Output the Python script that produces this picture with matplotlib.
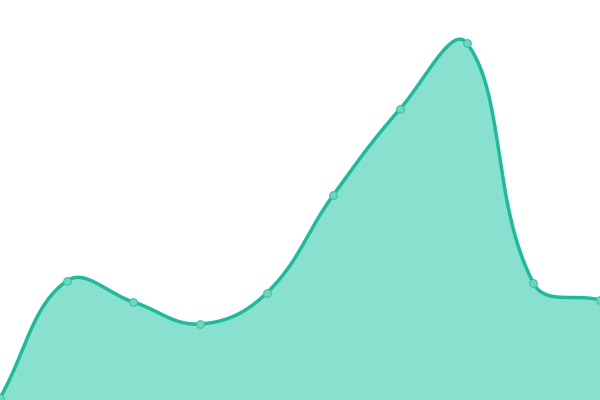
import matplotlib
matplotlib.use("Agg")
import matplotlib.pyplot as plt
import numpy as np

x_idx = [0, 1, 2, 3, 4, 5, 6, 7, 8, 9]
values = [2, 119, 98, 76, 107, 205, 291, 357, 117, 100]

line_color = "#1abc9c"
fill_color = "#88e0cf"
tension = 0.4


# bezier spline in the style of chart.js (control points worked out in pixel space)
def spline_pixels(pts, t=0.4, n=40):
    pts = np.asarray(pts, float)
    cps = []
    for i in range(len(pts)):
        prev = pts[i - 1] if i > 0 else pts[i]
        cur = pts[i]
        nxt = pts[i + 1] if i < len(pts) - 1 else pts[i]
        d01 = np.hypot(*(cur - prev))
        d12 = np.hypot(*(nxt - cur))
        tot = d01 + d12
        s01 = d01 / tot if tot else 0
        s12 = d12 / tot if tot else 0
        cps.append((cur - t * s01 * (nxt - prev), cur + t * s12 * (nxt - prev)))
    u = np.linspace(0, 1, n)[:, None]
    curve = []
    for i in range(len(pts) - 1):
        p0, p1, p2, p3 = pts[i], cps[i][1], cps[i + 1][0], pts[i + 1]
        seg = ((1 - u) ** 3 * p0 + 3 * (1 - u) ** 2 * u * p1
               + 3 * (1 - u) * u ** 2 * p2 + u ** 3 * p3)
        curve.append(seg if i == 0 else seg[1:])
    return np.vstack(curve)


fig = plt.figure(figsize=(6, 4), dpi=100)
ax = fig.add_axes([0, 0, 1, 1])
ax.set_xlim(0, 9)
ax.set_ylim(0, 400)
ax.axis("off")

pix = ax.transData.transform(np.column_stack([x_idx, values]))
curve = ax.transData.inverted().transform(spline_pixels(pix, tension))
sx, sy = curve[:, 0], curve[:, 1]

ax.fill_between(sx, 0, sy, color=fill_color, lw=0)
ax.plot(sx, sy, color=line_color, lw=2.5, solid_capstyle="round")
ax.plot(x_idx, values, "o", ms=5.5, mfc="#6fd6bf", mec="#3cc4a6", mew=0.8)
fig.savefig("out.png", dpi=100)
